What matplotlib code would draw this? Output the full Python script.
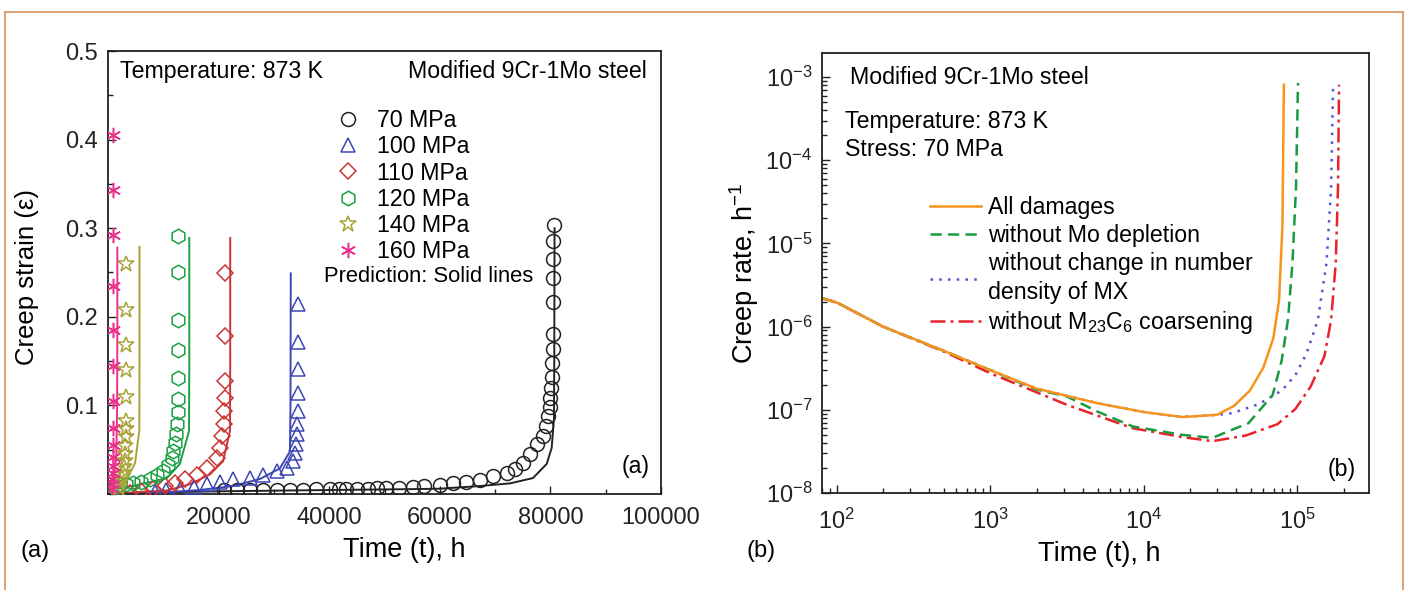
import matplotlib
matplotlib.use("Agg")
import matplotlib.pyplot as plt
import numpy as np
from matplotlib.ticker import FixedLocator, MultipleLocator, NullFormatter, LogLocator
from matplotlib.lines import Line2D
from matplotlib import font_manager

plt.rcParams['font.family'] = ['Liberation Sans', 'DejaVu Sans']
plt.rcParams['mathtext.fontset'] = 'custom'
plt.rcParams['mathtext.rm'] = 'Liberation Sans'
plt.rcParams['mathtext.it'] = 'Liberation Sans:italic'
plt.rcParams['mathtext.bf'] = 'Liberation Sans:bold'

# ---------------- Panel (a) data: creep strain vs time ----------------
stress_labels = ['70 MPa', '100 MPa', '110 MPa', '120 MPa', '140 MPa', '160 MPa']

# experimental points
t70 = [21000, 23300, 25600, 28000, 30500, 32900, 35300, 37700, 40200, 41800, 43000, 45000, 47000, 48700,
       50300, 52700, 55100, 57200, 60000, 62400, 64800, 67300, 69700, 72100, 73600, 75000, 76300,
       77500, 78600, 79200, 79600, 79900, 80000, 80100, 80200, 80300, 80400, 80400, 80400, 80500,
       80500, 80500, 80600]
e70 = [0.004, 0.004, 0.005, 0.005, 0.005, 0.005, 0.005, 0.0055, 0.0055, 0.006, 0.006, 0.006, 0.006, 0.0065,
       0.0065, 0.007, 0.008, 0.009, 0.010, 0.012, 0.014, 0.016, 0.020, 0.024, 0.028, 0.035, 0.045,
       0.056, 0.066, 0.077, 0.088, 0.098, 0.108, 0.120, 0.132, 0.148, 0.164, 0.181, 0.217, 0.244,
       0.265, 0.285, 0.304]

t100 = [8500, 10500, 13000, 15500, 17900, 20250, 22600, 25700, 28000, 30600, 32400, 33500, 33800,
        34000, 34100, 34200, 34300, 34300, 34400, 34400, 34400]
e100 = [0.002, 0.004, 0.006, 0.008, 0.011, 0.013, 0.017, 0.018, 0.022, 0.026, 0.029, 0.037, 0.046,
        0.056, 0.068, 0.079, 0.094, 0.114, 0.141, 0.171, 0.214]

t110 = [4000, 6000, 8100, 10300, 12100, 13900, 16100, 17900, 19700, 20200, 20600, 20900, 21000,
        21100, 21160, 21160, 21160]
e110 = [0.001, 0.003, 0.006, 0.009, 0.012, 0.017, 0.022, 0.029, 0.041, 0.052, 0.066, 0.079, 0.094,
        0.108, 0.128, 0.178, 0.250]

t120 = [1260, 2200, 3300, 4500, 6000, 7600, 8800, 9950, 10800, 11570, 11800, 12100, 12300, 12500,
        12600, 12660, 12660, 12660, 12660, 12660, 12660]
e120 = [0.007, 0.011, 0.011, 0.012, 0.014, 0.017, 0.021, 0.026, 0.033, 0.041, 0.049, 0.058, 0.068,
        0.079, 0.092, 0.107, 0.131, 0.162, 0.196, 0.251, 0.291]

t140 = [1900, 2200, 2500, 2700, 2900, 3000, 3100, 3150, 3200, 3200, 3250, 3250, 3250, 3250, 3250, 3250]
e140 = [0.007, 0.012, 0.018, 0.024, 0.030, 0.037, 0.045, 0.054, 0.064, 0.073, 0.082, 0.110, 0.140,
        0.168, 0.208, 0.260]

t160 = [700, 750, 800, 850, 900, 920, 940, 950, 960, 960, 960, 960, 960, 960, 960]
e160 = [0.006, 0.011, 0.017, 0.024, 0.032, 0.042, 0.055, 0.075, 0.105, 0.145, 0.185, 0.235, 0.292,
        0.343, 0.405]

# predictions (solid lines)
lt70 = [0, 5000, 20000, 40000, 55000, 60040, 67270, 72700, 76850, 79330, 80230, 80650, 80700, 80750]
le70 = [0, 0.0015, 0.003, 0.0045, 0.0055, 0.006, 0.009, 0.012, 0.018, 0.034, 0.052, 0.086, 0.15, 0.300]
lt100 = [0, 8000, 16600, 22600, 27500, 31100, 32900, 33000, 33050]
le100 = [0, 0.001, 0.0045, 0.009, 0.017, 0.029, 0.048, 0.10, 0.249]
lt110 = [0, 5000, 10700, 14800, 18400, 20800, 22060, 22100, 22100]
le110 = [0, 0.002, 0.004, 0.011, 0.022, 0.037, 0.071, 0.15, 0.289]
lt120 = [0, 500, 1600, 4500, 10670, 13000, 14650, 14700, 14700]
le120 = [0, 0.004, 0.006, 0.009, 0.018, 0.034, 0.071, 0.15, 0.289]
lt140 = [0, 1570, 3380, 4900, 5660, 5700, 5700]
le140 = [0, 0.007, 0.016, 0.035, 0.072, 0.15, 0.279]
lt160 = [0, 300, 1000, 1500, 1650, 1690, 1690]
le160 = [0, 0.010, 0.020, 0.040, 0.10, 0.18, 0.278]

# ---------------- Panel (b) data: creep rate vs time ----------------
t_all = [80, 100, 200, 500, 1000, 2000, 5000, 10000, 17800, 30000, 38800, 49000, 60000, 69800,
         76000, 80000, 81700]
r_all = [2.2e-6, 1.95e-6, 1.0e-6, 5.1e-7, 3.0e-7, 1.8e-7, 1.2e-7, 9.4e-8, 8.2e-8, 8.7e-8, 1.12e-7,
         1.7e-7, 3.2e-7, 7.3e-7, 2.07e-6, 1.66e-5, 8.1e-4]
t_mo = [80, 100, 200, 500, 1000, 2000, 3150, 5000, 8500, 17800, 28000, 38000, 48000, 69000, 79000,
        87000, 93000, 98000, 101000]
r_mo = [2.2e-6, 1.95e-6, 1.0e-6, 5.1e-7, 3.0e-7, 1.75e-7, 1.45e-7, 9.5e-8, 6.3e-8, 5.0e-8, 4.6e-8,
        5.8e-8, 6.9e-8, 1.5e-7, 3.9e-7, 1.23e-6, 5.9e-6, 4.7e-5, 8.5e-4]
t_mx = [80, 100, 200, 500, 1000, 2000, 5000, 10000, 17800, 30000, 37500, 56000, 79000, 97000,
        115000, 136000, 155000, 166000, 171000]
r_mx = [2.2e-6, 1.95e-6, 1.0e-6, 5.1e-7, 3.0e-7, 1.8e-7, 1.2e-7, 9.4e-8, 8.2e-8, 8.7e-8, 9.1e-8,
        1.17e-7, 1.7e-7, 2.6e-7, 4.8e-7, 1.2e-6, 5.9e-6, 4.7e-5, 8.5e-4]
t_m23 = [80, 100, 200, 500, 1000, 3150, 8500, 17800, 28000, 46000, 74000, 97000, 122000, 150000,
         166000, 178000, 184000, 187000]
r_m23 = [2.2e-6, 1.95e-6, 1.0e-6, 5.0e-7, 2.75e-7, 1.15e-7, 6.0e-8, 4.7e-8, 4.2e-8, 4.9e-8, 6.7e-8,
         1.02e-7, 1.9e-7, 4.4e-7, 1.2e-6, 5.9e-6, 4.7e-5, 8.1e-4]
b_labels = ['All damages', 'without Mo depletion', 'without change in number\ndensity of MX',
            'without M$_{23}$C$_6$ coarsening']

# ---------------- Figure ----------------
fig = plt.figure(figsize=(14.07, 5.90), dpi=100)
W, H = 1407, 590

def ax_rect(l, t, r, b):
    return [l / W, 1 - b / H, (r - l) / W, (b - t) / H]

axa = fig.add_axes(ax_rect(108, 51, 661, 494))
axb = fig.add_axes(ax_rect(822, 53, 1369, 493))

FS = 16.7
TFS = 17
colors_a = ['#222222', '#3c46b4', '#cc3535', '#1ca044', '#a9a336', '#ea2f8c']
markers_a = ['o', '^', 'D', 'h', '*', (6, 2, 0)]
msizes = [10, 10, 8, 10.5, 12, 11]
exp_t = [t70, t100, t110, t120, t140, t160]
exp_e = [e70, e100, e110, e120, e140, e160]
pred_t = [lt70, lt100, lt110, lt120, lt140, lt160]
pred_e = [le70, le100, le110, le120, le140, le160]

for i in range(6):
    axa.plot(pred_t[i], pred_e[i], '-', color=colors_a[i], lw=1.4, zorder=2)
for i in range(6):
    axa.plot(exp_t[i], exp_e[i], linestyle='none', marker=markers_a[i], ms=msizes[i],
             mfc='none', mec=colors_a[i], mew=1.1, color=colors_a[i], label=stress_labels[i], zorder=3)

axa.set_xlim(0, 100000)
axa.set_ylim(0, 0.5)
axa.xaxis.set_major_locator(FixedLocator([0, 20000, 40000, 60000, 80000, 100000]))
axa.xaxis.set_minor_locator(MultipleLocator(10000))
axa.set_xticklabels(['', '20000', '40000', '60000', '80000', '100000'])
axa.yaxis.set_major_locator(FixedLocator([0, 0.1, 0.2, 0.3, 0.4, 0.5]))
axa.yaxis.set_minor_locator(MultipleLocator(0.05))
axa.set_yticklabels(['', '0.1', '0.2', '0.3', '0.4', '0.5'])
axa.set_xlabel('Time (t), h', fontsize=19.5)
axa.set_ylabel('Creep strain (\u03b5)', fontsize=18.5)
axa.xaxis.set_label_coords(0.535, -0.098)
axa.yaxis.set_label_coords(-0.125, 0.49)

leg = axa.legend(loc='upper left', bbox_to_anchor=(0.413, 0.869), frameon=False, fontsize=FS,
                 handlelength=1.0, handletextpad=0.75, labelspacing=0.14, borderpad=0,
                 borderaxespad=0, numpoints=1)
axa.text(0.3897, 0.491, 'Prediction: Solid lines', transform=axa.transAxes, fontsize=15.8,
         ha='left', va='center')
axa.text(0.0217, 0.953, 'Temperature: 873 K', transform=axa.transAxes, fontsize=FS,
         ha='left', va='center')
axa.text(0.974, 0.953, 'Modified 9Cr-1Mo steel', transform=axa.transAxes, fontsize=FS,
         ha='right', va='center')
axa.text(0.98, 0.062, '(a)', transform=axa.transAxes, fontsize=FS, ha='right', va='center')

# panel (b)
b_colors = ['#f7941e', '#1a9a40', '#5555d0', '#e8232b']
b_styles = ['-', (0, (4.5, 2.5)), (0, (1, 2.5)), (0, (6, 2, 1.2, 2))]
b_t = [t_all, t_mo, t_mx, t_m23]
b_r = [r_all, r_mo, r_mx, r_m23]
for i in [3, 2, 1, 0]:
    axb.plot(b_t[i], b_r[i], color=b_colors[i], linestyle=b_styles[i], lw=1.8, label=b_labels[i])
axb.set_xscale('log')
axb.set_yscale('log')
axb.set_xlim(80, 2.93e5)
axb.set_ylim(1e-8, 10 ** -2.71)
axb.xaxis.set_major_locator(LogLocator(base=10, numticks=10))
axb.xaxis.set_minor_locator(LogLocator(base=10, subs=np.arange(2, 10), numticks=20))
axb.xaxis.set_minor_formatter(NullFormatter())
axb.yaxis.set_major_locator(LogLocator(base=10, numticks=10))
axb.yaxis.set_minor_locator(LogLocator(base=10, subs=np.arange(2, 10), numticks=20))
axb.yaxis.set_minor_formatter(NullFormatter())
axb.set_xlabel('Time (t), h', fontsize=19.5)
axb.set_ylabel('Creep rate, h$^{-1}$', fontsize=19.5)
axb.xaxis.set_label_coords(0.506, -0.11)
axb.yaxis.set_label_coords(-0.112, 0.5)

handles, labels = axb.get_legend_handles_labels()
order = [3, 2, 1, 0]
legb = axb.legend([handles[k] for k in order], [labels[k] for k in order], loc='upper left',
                  bbox_to_anchor=(0.197, 0.674), frameon=False, fontsize=FS, handlelength=2.2,
                  handletextpad=0.3, labelspacing=0.2, borderpad=0, borderaxespad=0)
for txt in legb.get_texts():
    txt.set_linespacing(1.36)
axb.text(0.051, 0.945, 'Modified 9Cr-1Mo steel', transform=axb.transAxes, fontsize=FS,
         ha='left', va='center')
axb.text(0.042, 0.845, 'Temperature: 873 K', transform=axb.transAxes, fontsize=FS,
         ha='left', va='center')
axb.text(0.042, 0.781, 'Stress: 70 MPa', transform=axb.transAxes, fontsize=FS,
         ha='left', va='center')
axb.text(0.976, 0.054, '(b)', transform=axb.transAxes, fontsize=FS, ha='right', va='center')

for ax in (axa, axb):
    for s in ax.spines.values():
        s.set_linewidth(1.3)
        s.set_color('#222222')
    ax.tick_params(which='both', direction='in', top=False, right=False, labelsize=TFS,
                   width=1.0, pad=7, colors='#222222')
    ax.tick_params(which='major', length=6)
    ax.tick_params(which='minor', length=3.5)
axa.tick_params(axis='x', which='both', pad=9)
axb.tick_params(axis='x', which='both', pad=11)

# figure-level panel labels (condensed face if available)
names = {f.name for f in font_manager.fontManager.ttflist}
if 'Liberation Sans Narrow' in names:
    pfam, psize = ['Liberation Sans Narrow', 'DejaVu Sans'], 20
else:
    pfam, psize = ['Liberation Sans', 'DejaVu Sans'], 17
fig.text(20 / W, 1 - 551 / H, '(a)', fontsize=psize, family=pfam, ha='left', va='center')
fig.text(746 / W, 1 - 551 / H, '(b)', fontsize=psize, family=pfam, ha='left', va='center')

# orange frame
oc = '#d4935c'
fig.add_artist(Line2D([5 / W, 1403 / W], [1 - 12 / H, 1 - 12 / H], color=oc, lw=1.2,
                      transform=fig.transFigure))
fig.add_artist(Line2D([5 / W, 5 / W], [0, 1 - 12 / H], color=oc, lw=1.2, transform=fig.transFigure))
fig.add_artist(Line2D([1403 / W, 1403 / W], [0, 1 - 12 / H], color=oc, lw=1.2,
                      transform=fig.transFigure))

fig.savefig('out.png', dpi=100)
